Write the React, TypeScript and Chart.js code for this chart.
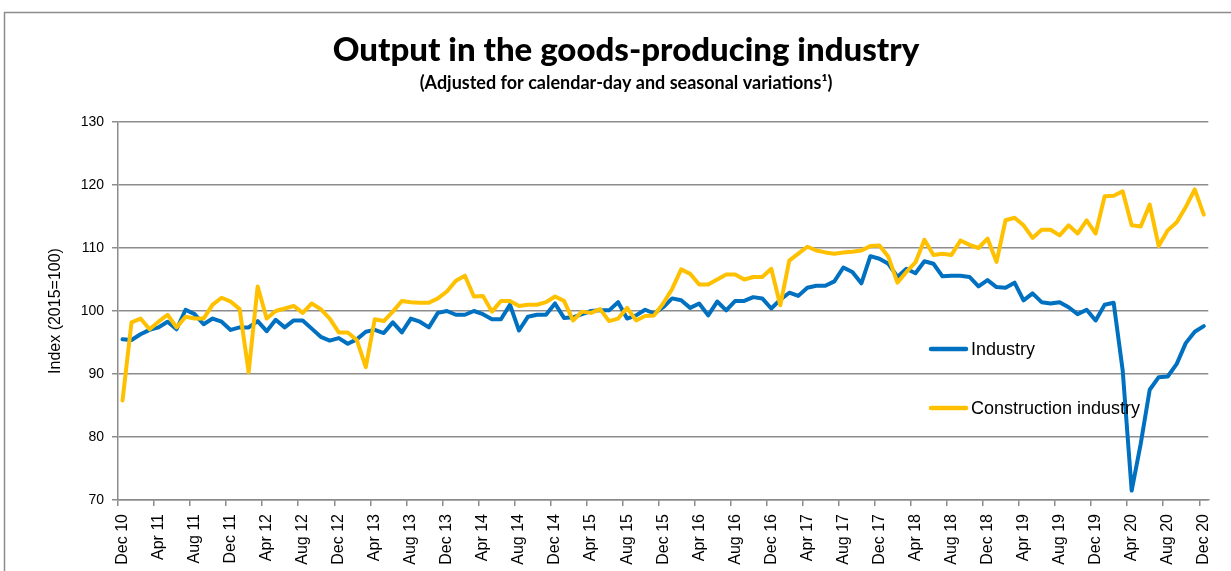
import React, { useEffect, useRef } from 'react';
import { Chart, registerables } from 'chart.js';

Chart.register(...registerables);

const MONTHS = ['Jan', 'Feb', 'Mar', 'Apr', 'May', 'Jun', 'Jul', 'Aug', 'Sep', 'Oct', 'Nov', 'Dec'];

// Monthly categories Dec 10 ... Dec 20
const categories: string[] = [];
for (let k = 0; k <= 120; k++) {
  const m = (11 + k) % 12;
  const yr = 10 + Math.floor((11 + k) / 12);
  categories.push(`${MONTHS[m]} ${yr}`);
}

const industry: number[] = [
  95.5, 95.4, 96.3, 97.0, 97.4, 98.3, 97.1, 100.2, 99.5, 97.9, 98.8, 98.3,
  97.0, 97.4, 97.4, 98.4, 96.8, 98.6, 97.4, 98.5, 98.5, 97.2, 95.9, 95.3,
  95.7, 94.8, 95.5, 96.7, 97.0, 96.5, 98.2, 96.6, 98.8, 98.3, 97.4, 99.7,
  100.0, 99.4, 99.4, 100.0, 99.5, 98.7, 98.7, 101.0, 96.9, 99.1, 99.4, 99.4,
  101.2, 98.9, 99.0, 99.5, 100.0, 100.1, 100.1, 101.4, 98.8, 99.3, 100.2, 99.6,
  100.6, 102.0, 101.7, 100.5, 101.2, 99.3, 101.5, 100.1, 101.6, 101.6, 102.2, 102.0,
  100.4, 101.8, 102.9, 102.4, 103.7, 104.0, 104.0, 104.7, 106.9, 106.2, 104.4, 108.7,
  108.3, 107.5, 105.4, 106.7, 106.0, 107.9, 107.5, 105.5, 105.6, 105.6, 105.4, 103.9,
  104.9, 103.8, 103.7, 104.5, 101.7, 102.8, 101.4, 101.2, 101.4, 100.6, 99.5, 100.2,
  98.5, 101.0, 101.3, 90.6, 71.5, 78.9, 87.5, 89.5, 89.6, 91.6, 94.9, 96.7,
  97.6,
];

const construction: number[] = [
  85.8, 98.2, 98.8, 97.1, 98.3, 99.4, 97.4, 99.1, 98.8, 98.8, 101.0, 102.1,
  101.5, 100.3, 90.3, 103.9, 98.8, 100.0, 100.4, 100.8, 99.7, 101.2, 100.3, 98.8,
  96.6, 96.6, 95.4, 91.1, 98.7, 98.4, 99.9, 101.6, 101.4, 101.3, 101.3, 102.0,
  103.1, 104.8, 105.6, 102.3, 102.4, 99.9, 101.6, 101.6, 100.8, 101.0, 101.0, 101.4,
  102.3, 101.6, 98.5, 99.9, 99.7, 100.3, 98.4, 98.8, 100.5, 98.5, 99.2, 99.3,
  101.2, 103.5, 106.6, 105.9, 104.2, 104.2, 105.0, 105.8, 105.8, 105.0, 105.4, 105.4,
  106.7, 100.9, 108.0, 109.1, 110.2, 109.6, 109.3, 109.1, 109.3, 109.4, 109.6, 110.3,
  110.4, 108.6, 104.5, 106.2, 107.7, 111.3, 108.9, 109.1, 108.9, 111.2, 110.5, 110.0,
  111.5, 107.8, 114.4, 114.8, 113.6, 111.6, 112.9, 112.9, 112.0, 113.6, 112.3, 114.4,
  112.3, 118.2, 118.3, 119.0, 113.6, 113.4, 116.9, 110.3, 112.8, 114.1, 116.5, 119.3,
  115.3,
];

const yTicks: number[] = [70, 80, 90, 100, 110, 120, 130];

const TITLE = 'Output in the goods-producing industry';
const SUBTITLE = '(Adjusted for calendar-day and seasonal variations\u00B9)';
const Y_TITLE = 'Index (2015=100)';
const SERIES_NAMES = ['Industry', 'Construction industry'];

const BLUE = '#0070C0';
const YELLOW = '#FFC000';
const GRID = '#8c8c8c';
const AXIS_FONT = "'Liberation Sans', Arial, sans-serif";
const TITLE_FONT = "Lato, 'Open Sans', sans-serif";

const decorPlugin = {
  id: 'decor',
  beforeDraw(chart: any) {
    const ctx = chart.ctx;
    ctx.save();
    ctx.fillStyle = '#ffffff';
    ctx.fillRect(0, 0, chart.width, chart.height);
    ctx.strokeStyle = '#8c8c8c';
    ctx.lineWidth = 1.5;
    ctx.strokeRect(4.5, 12.5, chart.width + 40, chart.height + 40);
    ctx.fillStyle = '#000000';
    ctx.textAlign = 'center';
    ctx.textBaseline = 'middle';
    ctx.font = `900 33px ${TITLE_FONT}`;
    ctx.fillText(TITLE, 626, 50);
    ctx.font = `bold 18px ${TITLE_FONT}`;
    ctx.fillText(SUBTITLE, 626, 83);
    ctx.restore();
  },
  afterDraw(chart: any) {
    const ctx = chart.ctx;
    ctx.save();
    const items = [
      { name: SERIES_NAMES[0], color: BLUE, y: 349 },
      { name: SERIES_NAMES[1], color: YELLOW, y: 408 },
    ];
    ctx.font = `18px ${AXIS_FONT}`;
    ctx.textBaseline = 'middle';
    ctx.textAlign = 'left';
    for (const it of items) {
      ctx.strokeStyle = it.color;
      ctx.lineWidth = 4.5;
      ctx.lineCap = 'round';
      ctx.beginPath();
      ctx.moveTo(931, it.y);
      ctx.lineTo(966, it.y);
      ctx.stroke();
      ctx.fillStyle = '#000';
      ctx.fillText(it.name, 971, it.y + 1);
    }
    ctx.restore();
  },
};

export default function App() {
  const canvasRef = useRef<HTMLCanvasElement | null>(null);

  useEffect(() => {
    const canvas = canvasRef.current;
    if (!canvas) return;
    const chart = new Chart(canvas, {
      type: 'line',
      data: {
        labels: categories,
        datasets: [
          {
            label: SERIES_NAMES[0],
            data: industry,
            borderColor: BLUE,
            backgroundColor: BLUE,
            borderWidth: 4,
            pointRadius: 0,
            tension: 0,
            borderJoinStyle: 'round',
            borderCapStyle: 'round',
            order: 2,
          },
          {
            label: SERIES_NAMES[1],
            data: construction,
            borderColor: YELLOW,
            backgroundColor: YELLOW,
            borderWidth: 4,
            pointRadius: 0,
            tension: 0,
            borderJoinStyle: 'round',
            borderCapStyle: 'round',
            order: 1,
          },
        ],
      },
      options: {
        responsive: false,
        animation: false,
        events: [],
        layout: { padding: { top: 122, right: 8, bottom: 0, left: 0 } },
        plugins: {
          legend: { display: false },
          title: { display: false },
          tooltip: { enabled: false },
        },
        scales: {
          x: {
            type: 'category',
            offset: true,
            grid: {
              offset: true,
              drawOnChartArea: false,
              drawTicks: true,
              tickLength: 6,
              lineWidth: 1.5,
              color: (c: any) => (c.index % 4 === 0 ? GRID : 'rgba(0,0,0,0)'),
            },
            border: { display: true, color: GRID, width: 1.5 },
            ticks: {
              autoSkip: false,
              maxRotation: 90,
              minRotation: 90,
              padding: 8,
              color: '#000',
              font: { family: AXIS_FONT, size: 16 },
              callback: (_v: any, i: number) => (i % 4 === 0 ? categories[i] : ''),
            },
            afterFit: (s: any) => {
              s.height = 71;
            },
          },
          y: {
            min: yTicks[0],
            max: yTicks[yTicks.length - 1],
            afterBuildTicks: (s: any) => {
              s.ticks = yTicks.map((v) => ({ value: v }));
            },
            grid: { color: GRID, lineWidth: 1.5, tickLength: 6 },
            border: { display: true, color: GRID, width: 1.5 },
            ticks: {
              padding: 8,
              color: '#000',
              font: { family: AXIS_FONT, size: 14 },
            },
            title: {
              display: true,
              text: Y_TITLE,
              color: '#000',
              font: { family: AXIS_FONT, size: 16 },
              padding: { top: 46, bottom: 0 },
            },
            afterFit: (s: any) => {
              s.width = 118;
            },
          },
        },
      },
      plugins: [decorPlugin],
    } as any);
    return () => chart.destroy();
  }, []);

  return (
    <div style={{ position: 'absolute', left: 0, top: 0, width: 1231, height: 571, overflow: 'hidden', background: '#fff' }}>
      <canvas ref={canvasRef} width={1231} height={571} style={{ display: 'block' }} />
    </div>
  );
}
